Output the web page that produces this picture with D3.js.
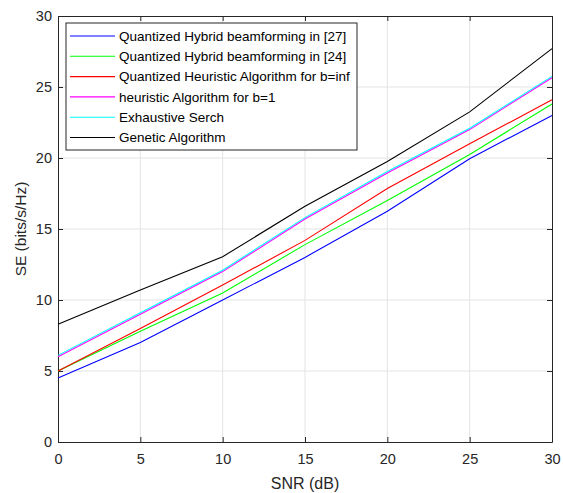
<!DOCTYPE html>
<html>
<head>
<meta charset="utf-8">
<script src="https://cdnjs.cloudflare.com/ajax/libs/d3/7.8.5/d3.min.js"></script>
<style>
  body { margin: 0; background: #fff; }
  svg { font-family: "Liberation Sans", Arial, sans-serif; }
</style>
</head>
<body>
<div class="chart"></div>
<script>
const snr = [0, 5, 10, 15, 20, 25, 30];
const hybrid27 = [4.5, 7.0, 10.0, 13.0, 16.25, 19.95, 23.0];
const hybrid24 = [5.0, 7.8, 10.5, 13.9, 17.0, 20.25, 23.8];
const heuristicInf = [5.0, 8.0, 11.05, 14.2, 17.85, 21.0, 24.1];
const heuristicB1 = [6.0, 9.0, 12.0, 15.7, 18.95, 22.0, 25.65];
const exhaustive = [6.1, 9.1, 12.1, 15.8, 19.05, 22.1, 25.75];
const genetic = [8.3, 10.7, 13.05, 16.6, 19.75, 23.25, 27.7];
const xTicks = [0, 5, 10, 15, 20, 25, 30];
const yTicks = [0, 5, 10, 15, 20, 25, 30];

const series = [
  { name: 'Quantized Hybrid beamforming in [27]', values: hybrid27, color: '#0000ff' },
  { name: 'Quantized Hybrid beamforming in [24]', values: hybrid24, color: '#00ff00' },
  { name: 'Quantized Heuristic Algorithm for b=inf', values: heuristicInf, color: '#ff0000' },
  { name: 'heuristic Algorithm for b=1', values: heuristicB1, color: '#ff00ff' },
  { name: 'Exhaustive Serch', values: exhaustive, color: '#00ffff' },
  { name: 'Genetic Algorithm', values: genetic, color: '#000000' }
];

const svgWidth = 563;
const svgHeight = 493;
const margin = { top: 16, right: 11, bottom: 51, left: 58 };
const width = svgWidth - margin.left - margin.right;
const height = svgHeight - margin.top - margin.bottom;

const svg = d3.select('.chart')
  .append('svg')
  .attr('width', svgWidth)
  .attr('height', svgHeight)
  .append('g')
  .attr('transform', `translate(${margin.left},${margin.top})`);

const x = d3.scaleLinear().domain([0, 30]).range([0, width]);
const y = d3.scaleLinear().domain([0, 30]).range([height, 0]);

// grid
svg.append('g')
  .selectAll('line')
  .data(xTicks.slice(1, -1))
  .enter()
  .append('line')
  .attr('x1', d => x(d)).attr('x2', d => x(d))
  .attr('y1', 0).attr('y2', height)
  .attr('stroke', '#e3e3e3');
svg.append('g')
  .selectAll('line')
  .data(yTicks.slice(1, -1))
  .enter()
  .append('line')
  .attr('y1', d => y(d)).attr('y2', d => y(d))
  .attr('x1', 0).attr('x2', width)
  .attr('stroke', '#e3e3e3');

// axes, ticks pointing inward
const styleAxis = g => {
  g.select('.domain').attr('stroke', '#262626');
  g.selectAll('.tick line').attr('stroke', '#262626');
  g.selectAll('text').attr('fill', '#262626').style('font-size', '14.5px');
};

svg.append('g')
  .attr('transform', `translate(0,${height})`)
  .call(d3.axisBottom(x).tickValues(xTicks).tickSizeInner(-5).tickSizeOuter(0).tickPadding(12))
  .call(styleAxis);
svg.append('g')
  .call(d3.axisLeft(y).tickValues(yTicks).tickSizeInner(-5).tickSizeOuter(0).tickPadding(6))
  .call(styleAxis);
svg.append('g')
  .call(d3.axisTop(x).tickValues(xTicks).tickSizeInner(-5).tickSizeOuter(0).tickFormat(''))
  .call(styleAxis);
svg.append('g')
  .attr('transform', `translate(${width},0)`)
  .call(d3.axisRight(y).tickValues(yTicks).tickSizeInner(-5).tickSizeOuter(0).tickFormat(''))
  .call(styleAxis);

// lines
const line = d3.line()
  .x((d, i) => x(snr[i]))
  .y(d => y(d));

svg.selectAll('.series')
  .data(series)
  .enter()
  .append('path')
  .attr('class', 'series')
  .attr('d', d => line(d.values))
  .attr('fill', 'none')
  .attr('stroke', d => d.color)
  .attr('stroke-width', 1.1);

// axis labels
svg.append('text')
  .attr('x', width / 2)
  .attr('y', height + 47)
  .attr('text-anchor', 'middle')
  .attr('fill', '#262626')
  .style('font-size', '16px')
  .text('SNR (dB)');

svg.append('text')
  .attr('transform', `translate(${-32},${height / 2}) rotate(-90)`)
  .attr('text-anchor', 'middle')
  .attr('fill', '#262626')
  .style('font-size', '15.5px')
  .text('SE (bits/s/Hz)');

// legend
const legend = svg.append('g').attr('transform', 'translate(8,7)');
legend.append('rect')
  .attr('width', 291)
  .attr('height', 127)
  .attr('fill', '#fff')
  .attr('stroke', '#262626')
  .attr('stroke-width', 1);

const item = legend.selectAll('.item')
  .data(series)
  .enter()
  .append('g')
  .attr('class', 'item')
  .attr('transform', (d, i) => `translate(0,${13 + i * 20.3})`);

item.append('line')
  .attr('x1', 4).attr('x2', 49)
  .attr('stroke', d => d.color)
  .attr('stroke-width', 1.1);

item.append('text')
  .attr('x', 53)
  .attr('dy', '0.35em')
  .attr('fill', '#000')
  .style('font-size', '13.5px')
  .text(d => d.name);
</script>
</body>
</html>
